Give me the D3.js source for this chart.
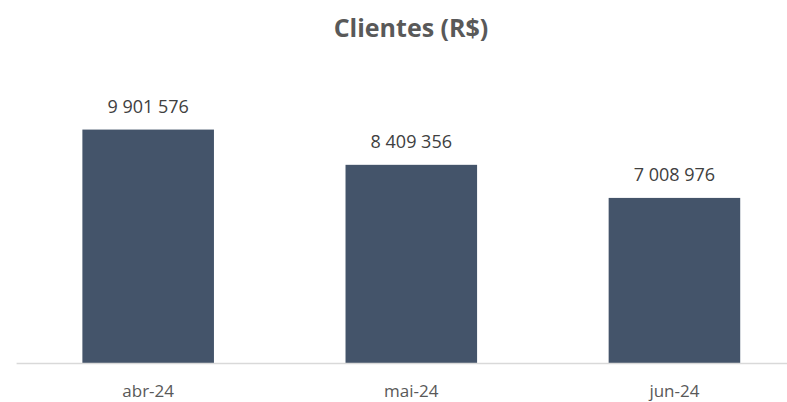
<!DOCTYPE html>
<html>
<head>
<meta charset="utf-8">
<script src="https://cdn.jsdelivr.net/npm/d3@7"></script>
<style>
	body { margin: 0; background: #fff; }
	svg { display: block; font-family: "Open Sans", "Noto Sans", sans-serif; }
</style>
</head>
<body>
<div id="chart"></div>
<script>
// Data
var months = ["abr-24", "mai-24", "jun-24"];
var clientes = [9901576, 8409356, 7008976];
var chartTitle = "Clientes (R$)";

(function(){
	var width = 787, height = 402;
	var baseY = 363.5;

	var svg = d3.select("#chart").append("svg")
		.attr("width", width)
		.attr("height", height);

	// Scales (plot area runs off the right edge, as in the original)
	var x = d3.scaleBand()
		.domain(months)
		.range([16.6, 806])
		.paddingInner(0.5)
		.paddingOuter(0.25);

	var y = d3.scaleLinear()
		.domain([0, 12000000])
		.range([baseY, 80]);

	var fmt = function(v){
		return d3.format(",")(v).replace(/,/g, " ");
	};

	// Title
	svg.append("text")
		.attr("x", 411)
		.attr("y", 37)
		.attr("text-anchor", "middle")
		.attr("font-size", 25)
		.attr("font-weight", "bold")
		.attr("fill", "#595959")
		.text(chartTitle);

	// Bars
	svg.selectAll("rect.bar")
		.data(clientes)
		.enter().append("rect")
		.attr("class", "bar")
		.attr("x", function(d, i){ return x(months[i]); })
		.attr("y", function(d){ return y(d); })
		.attr("width", x.bandwidth())
		.attr("height", function(d){ return baseY - y(d); })
		.attr("fill", "#44546A");

	// Value labels
	svg.selectAll("text.val")
		.data(clientes)
		.enter().append("text")
		.attr("class", "val")
		.attr("x", function(d, i){ return x(months[i]) + x.bandwidth() / 2; })
		.attr("y", function(d){ return y(d) - 17; })
		.attr("text-anchor", "middle")
		.attr("font-size", 18)
		.attr("fill", "#404040")
		.text(fmt);

	// Category axis
	var axis = svg.append("g")
		.attr("transform", "translate(0," + baseY + ")")
		.call(d3.axisBottom(x).tickSize(0).tickPadding(0));
	axis.select(".domain").remove();
	axis.append("line")
		.attr("x1", 16.6).attr("x2", width)
		.attr("y1", 0).attr("y2", 0)
		.attr("stroke", "#D9D9D9")
		.attr("stroke-width", 1.5);
	axis.selectAll(".tick text")
		.attr("y", 33)
		.attr("dy", null)
		.attr("font-size", 17)
		.attr("font-family", "Open Sans, Noto Sans, sans-serif")
		.attr("fill", "#595959");
})();
</script>
</body>
</html>
